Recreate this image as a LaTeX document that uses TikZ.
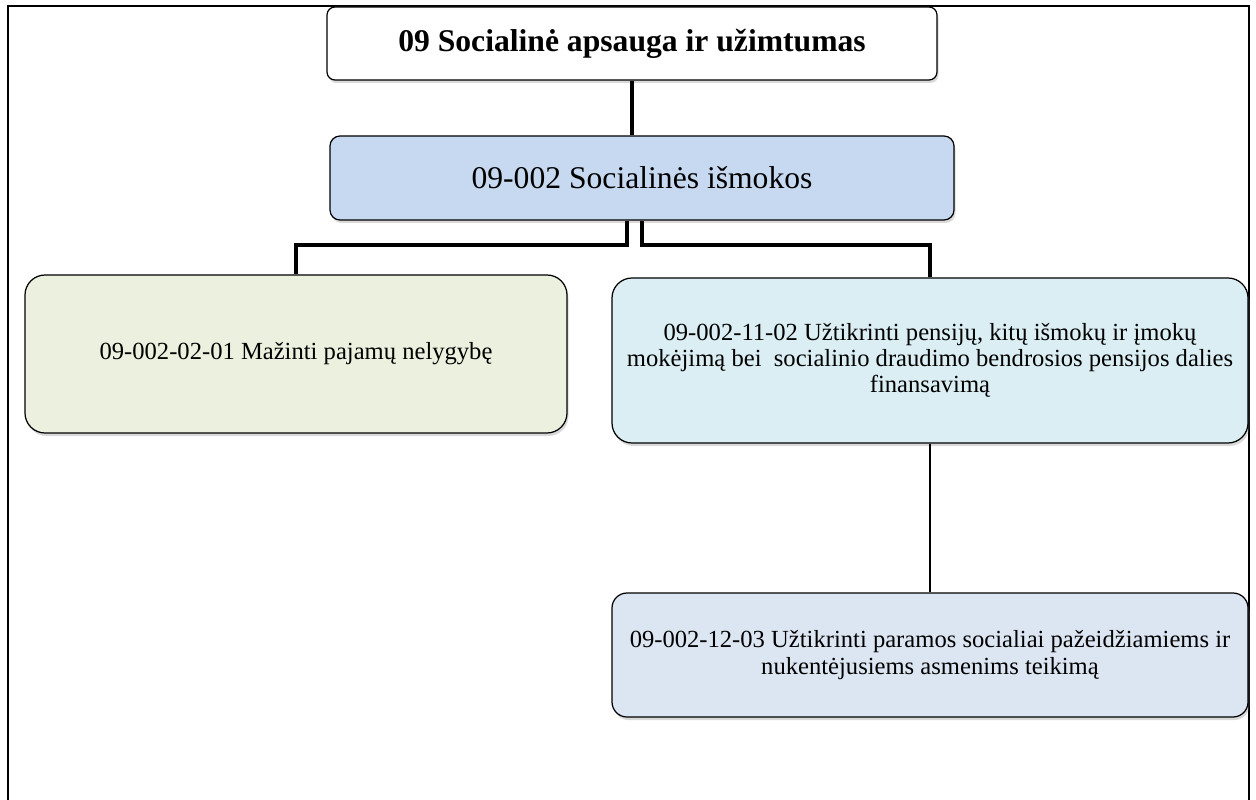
\documentclass[tikz,border=0pt]{standalone}
\usepackage{fontspec}
\setmainfont{Liberation Serif}
\usetikzlibrary{shadows}

\definecolor{progblue}{HTML}{C6D9F1}
\definecolor{goalgreen}{HTML}{EBF1DE}
\definecolor{taskcyan}{HTML}{DAEEF3}
\definecolor{taskblue}{HTML}{DCE6F2}

\tikzset{
    box/.style={draw, line width=0.7pt, align=center,
        drop shadow={shadow xshift=0.03cm, shadow yshift=-0.06cm, opacity=0.3},
        font=\fontsize{14}{15}\selectfont},
    link/.style={line width=2.8pt},
}

\begin{document}
\begin{tikzpicture}
    \useasboundingbox (0,0) rectangle (25.12,-16);

    % outer frame, cut at the bottom
    \draw[line width=1.1pt] (0.16,-16) -- (0.16,-0.12) -- (24.98,-0.12) -- (24.98,-16);

    \node[box, fill=white, rounded corners=0.16cm, minimum width=12.2cm, minimum height=1.46cm,
        font=\fontsize{18}{22}\selectfont\bfseries] (area) at (12.64,-0.87) {09 Socialinė apsauga ir užimtumas};
    \node[box, fill=progblue, rounded corners=0.2cm, minimum width=12.48cm, minimum height=1.68cm,
        font=\fontsize{18}{22}\selectfont] (prog) at (12.84,-3.56) {09-002 Socialinės išmokos};

    \node[box, fill=goalgreen, rounded corners=0.4cm, minimum width=10.84cm, minimum height=3.16cm] (goal) at (5.92,-7.08)
        {09-002-02-01 Mažinti pajamų nelygybę};
    \node[box, fill=taskcyan, rounded corners=0.4cm, minimum width=12.72cm, minimum height=3.3cm] (pens) at (18.6,-7.21)
        {09-002-11-02 Užtikrinti pensijų, kitų išmokų ir įmokų\\ mokėjimą bei\ \ socialinio draudimo bendrosios pensijos dalies\\ finansavimą};
    \node[box, fill=taskblue, rounded corners=0.3cm, minimum width=12.72cm, minimum height=2.48cm] (help) at (18.6,-13.1)
        {09-002-12-03 Užtikrinti paramos socialiai pažeidžiamiems ir\\ nukentėjusiems asmenims teikimą};

    \coordinate (fork) at (12.84,-4.9);

    \draw[link] (area.south) -- (area.south |- prog.north);
    \draw[link] ([xshift=-0.3cm]prog.south) |- ([xshift=-0.3cm]fork) -| (goal.north);
    \draw[link] (prog.south) -- (fork) -| (pens.north);
    \draw[line width=0.6pt] (pens.south) -- (help.north);
\end{tikzpicture}
\end{document}
